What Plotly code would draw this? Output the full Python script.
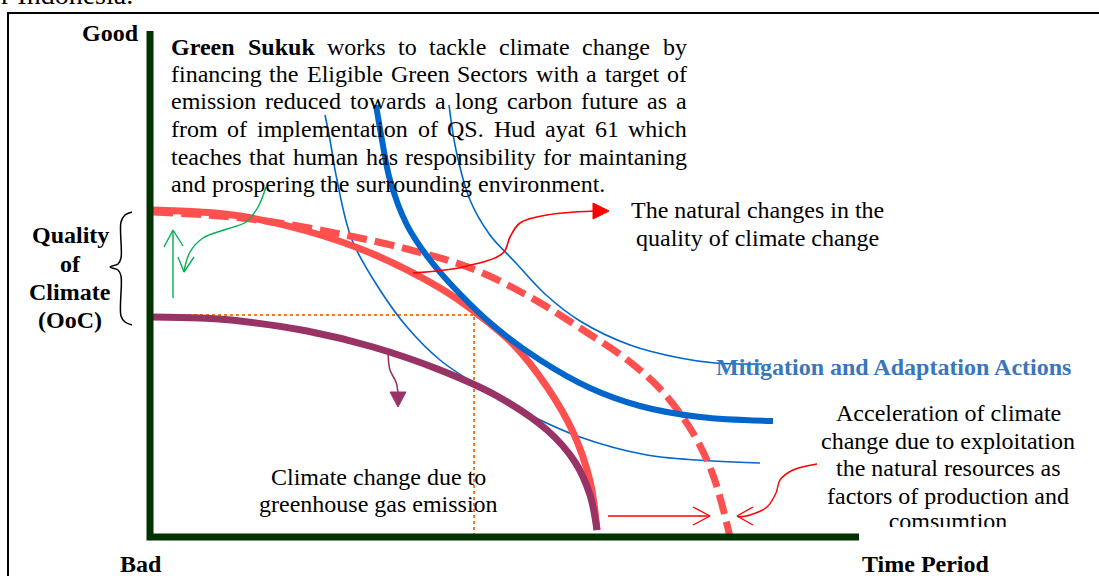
import plotly.graph_objects as go

W, H = 1099, 576
SERIF = "Liberation Serif, Times New Roman, serif"
FS = 24

# ---- curves (pixel space, y grows downward) ----
red_solid_x = [152, 200, 240, 307, 373, 440, 475, 513, 547, 573, 590, 597]
red_solid_y = [210, 212, 216, 231, 254, 288, 312, 344, 387, 432, 481, 530]

red_dash_x = [153, 220, 273, 340, 407, 473, 530, 580, 630, 663, 693, 713, 730]
red_dash_y = [212, 216, 222, 234, 249, 269, 297, 328, 362, 392, 433, 475, 537]

purple_x = [152, 200, 240, 307, 373, 440, 497, 547, 575, 590, 597]
purple_y = [317, 318, 321, 331, 347, 370, 396, 430, 462, 495, 530]

blue_thick_x = [376, 382, 390, 407, 430, 460, 495, 540, 590, 640, 700, 773]
blue_thick_y = [105, 140, 180, 225, 260, 294, 327, 360, 388, 406, 417, 421]

blue_left_x = [325, 330, 337, 352, 380, 407, 440, 480, 520, 580, 647, 713, 760]
blue_left_y = [115, 140, 180, 240, 290, 327, 360, 387, 410, 437, 455, 461, 463]

blue_right_x = [449, 456, 470, 490, 515, 545, 580, 630, 680, 715, 762]
blue_right_y = [105, 150, 200, 235, 262, 294, 321, 345, 358, 363, 364]

# axes of the sketch and the dotted guide
axis_x = [150, 150, 859]
axis_y = [31, 537, 537]
guide_x = [152, 474, 474]
guide_y = [315, 315, 537]

# frame round the figure
frame_x = [8, 8, W + 5]
frame_y = [H + 5, 13, 13]

# brace next to "Quality of Climate"
brace_x = [132, 125, 121, 121, 118, 110, 118, 121, 121, 125, 132]
brace_y = [212, 215, 222, 258, 264, 267, 270, 276, 316, 322, 325]

# small arrows
green_up_x = [173, 173]
green_up_y = [298, 231]
green_up_head_x = [164, 173, 183]
green_up_head_y = [247, 230, 246]
green_curve_x = [266, 258, 246, 227, 203, 190, 184]
green_curve_y = [187, 207, 222, 229, 238, 252, 271]
green_curve_head_x = [178, 184, 194]
green_curve_head_y = [257, 272, 257]

purple_arrow_x = [388, 390, 396, 398]
purple_arrow_y = [353, 370, 382, 393]
purple_head_x = [390, 406, 398, 390]
purple_head_y = [392, 392, 407, 392]

red_curve_x = [413, 463, 503, 510, 520, 547, 594]
red_curve_y = [273, 267, 253, 237, 223, 215, 211]
red_curve_head_x = [593, 609, 593, 593]
red_curve_head_y = [203, 211, 219, 203]

red_flat_x = [608, 709]
red_flat_y = [516, 516]
red_flat_head_x = [693, 710, 693]
red_flat_head_y = [507, 516, 525]

red_hook_x = [817, 793, 780, 776, 767, 750, 738]
red_hook_y = [464, 470, 480, 493, 507, 515, 517]
red_hook_head_x = [753, 737, 753]
red_hook_head_y = [507, 516, 525]

# ---- text ----
para_lines = [
    "Green Sukuk works to tackle climate change by",
    "financing the Eligible Green Sectors with a target of",
    "emission reduced towards a long carbon future as a",
    "from of implementation of QS. Hud ayat 61 which",
    "teaches that human has responsibility for maintaning",
    "and prospering the surrounding environment.",
]
para_y = [47, 74, 101, 129, 157, 184]
para_left, para_right = 170, 686

quality_lines = ["Quality", "of", "Climate", "(OoC)"]
quality_y = [235, 264, 292, 320]

natural_lines = ["The natural changes in the", "quality of climate change"]
natural_y = [210, 238]

ghg_lines = ["Climate change due to", "greenhouse gas emission"]
ghg_y = [477, 504]

accel_lines = ["Acceleration of climate", "change due to exploitation",
               "the natural resources as", "factors of production and"]
accel_y = [413, 441, 468, 496]
accel_last = "comsumtion"
accel_last_y = 523
accel_clip = 527

# Times New Roman advance widths (1/1000 em), for justifying the paragraph
TNR = dict(zip(" .16ACEGHQST", [250, 250, 500, 500, 722, 667, 611, 722, 722, 722, 556, 611]))
TNR.update(zip("abcdefghijklmnopqrstuvwxyz",
               [444, 500, 444, 500, 444, 333, 500, 500, 278, 278, 500, 278, 778,
                500, 500, 500, 500, 333, 389, 278, 500, 500, 722, 500, 500, 444]))
TNR_BOLD = dict(zip("GSeknru", [778, 556, 444, 556, 556, 444, 556]))


def word_width(word, bold=False):
    table = TNR_BOLD if bold else TNR
    return sum(table.get(c, TNR.get(c, 500)) for c in word) * FS / 1000


fig = go.Figure()


def line(x, y, color, width, dash=None, shape="linear", fill=None):
    fig.add_trace(go.Scatter(
        x=x, y=y, mode="lines",
        line=dict(color=color, width=width, dash=dash, shape=shape, smoothing=1),
        fill=fill, fillcolor=color if fill else None,
        hoverinfo="skip", showlegend=False,
    ))


RED = "#FF5050"
BLUE = "#0066CC"
PURPLE = "#993366"
GREEN = "#00B050"
ORANGE = "#F47B20"

line(frame_x, frame_y, "black", 2)
line(guide_x, guide_y, ORANGE, 2, dash="dot")
line(blue_left_x, blue_left_y, BLUE, 1.6, shape="spline")
line(blue_right_x, blue_right_y, BLUE, 1.6, shape="spline")
line(red_dash_x, red_dash_y, RED, 7, dash="20px,8px", shape="spline")
line(red_solid_x, red_solid_y, RED, 7, shape="spline")
line(purple_x, purple_y, PURPLE, 7, shape="spline")
line(blue_thick_x, blue_thick_y, BLUE, 6, shape="spline")
line(axis_x, axis_y, "#003300", 7)
line(brace_x, brace_y, "black", 1.5, shape="spline")

line(green_up_x, green_up_y, GREEN, 1.4)
line(green_up_head_x, green_up_head_y, GREEN, 1.4)
line(green_curve_x, green_curve_y, GREEN, 1.4, shape="spline")
line(green_curve_head_x, green_curve_head_y, GREEN, 1.4)
line(purple_arrow_x, purple_arrow_y, PURPLE, 1.6, shape="spline")
line(purple_head_x, purple_head_y, PURPLE, 1, fill="toself")
line(red_curve_x, red_curve_y, "#FF0000", 1.6, shape="spline")
line(red_curve_head_x, red_curve_head_y, "#FF0000", 1, fill="toself")
line(red_flat_x, red_flat_y, "#FF0000", 1.4)
line(red_flat_head_x, red_flat_head_y, "#FF0000", 1.4)
line(red_hook_x, red_hook_y, "#FF0000", 1.4, shape="spline")
line(red_hook_head_x, red_hook_head_y, "#FF0000", 1.4)

# last line of the right-hand note is cut off by its text box:
# a second subplot that ends at the box edge clips it
fig.add_trace(go.Scatter(
    x=[948], y=[accel_last_y], mode="text", text=[accel_last],
    textfont=dict(family=SERIF, size=FS, color="black"),
    cliponaxis=True, hoverinfo="skip", showlegend=False, xaxis="x2", yaxis="y2",
))

ann = []


def text(x, y, s, size=FS, bold=False, color="black", anchor="center", shift=0):
    ann.append(dict(
        x=x, y=y, text=f"<b>{s}</b>" if bold else s, showarrow=False,
        xanchor=anchor, yanchor="middle", borderpad=0, yshift=shift,
        font=dict(family=SERIF, size=size, color=color),
    ))


# running text of the page above the figure, mostly cut off
text(0, 0, "r Indonesia.", size=28, anchor="left", shift=6)
text(110, 33, "Good", bold=True)
text(141, 564, "Bad", bold=True)
text(926, 564, "Time Period", bold=True)
for s, y in zip(quality_lines, quality_y):
    text(70, y, s, bold=True)
for s, y in zip(natural_lines, natural_y):
    text(757, y, s)
for s, y in zip(ghg_lines, ghg_y):
    text(378, y, s)
for s, y in zip(accel_lines, accel_y):
    text(948, y, s)
text(715, 367, "Mitigation and Adaptation Actions", bold=True, color="#3A76BD", anchor="left")

# justified paragraph, word by word
for i, (s, y) in enumerate(zip(para_lines, para_y)):
    words = s.split()
    bold = [i == 0 and k < 2 for k in range(len(words))]
    widths = [word_width(w, b) for w, b in zip(words, bold)]
    if i < len(para_lines) - 1:
        gap = (para_right - para_left - sum(widths)) / (len(words) - 1)
    else:
        gap = FS * 0.25
    x = para_left
    for w, b, wd in zip(words, bold, widths):
        text(x, y, w, bold=b, anchor="left")
        x += wd + gap

fig.update_layout(
    width=W, height=H,
    margin=dict(l=0, r=0, t=0, b=0),
    paper_bgcolor="white", plot_bgcolor="rgba(0,0,0,0)",
    xaxis=dict(range=[0, W], visible=False, fixedrange=True),
    yaxis=dict(range=[H, 0], visible=False, fixedrange=True),
    xaxis2=dict(range=[0, W], domain=[0, 1], visible=False, fixedrange=True, anchor="y2"),
    yaxis2=dict(range=[accel_clip, 0], domain=[(H - accel_clip) / H, 1], visible=False,
                fixedrange=True, anchor="x2"),
    annotations=ann,
)

fig.write_html("out.html", config={"displayModeBar": False},
               post_script="document.body.style.margin = '0';")
